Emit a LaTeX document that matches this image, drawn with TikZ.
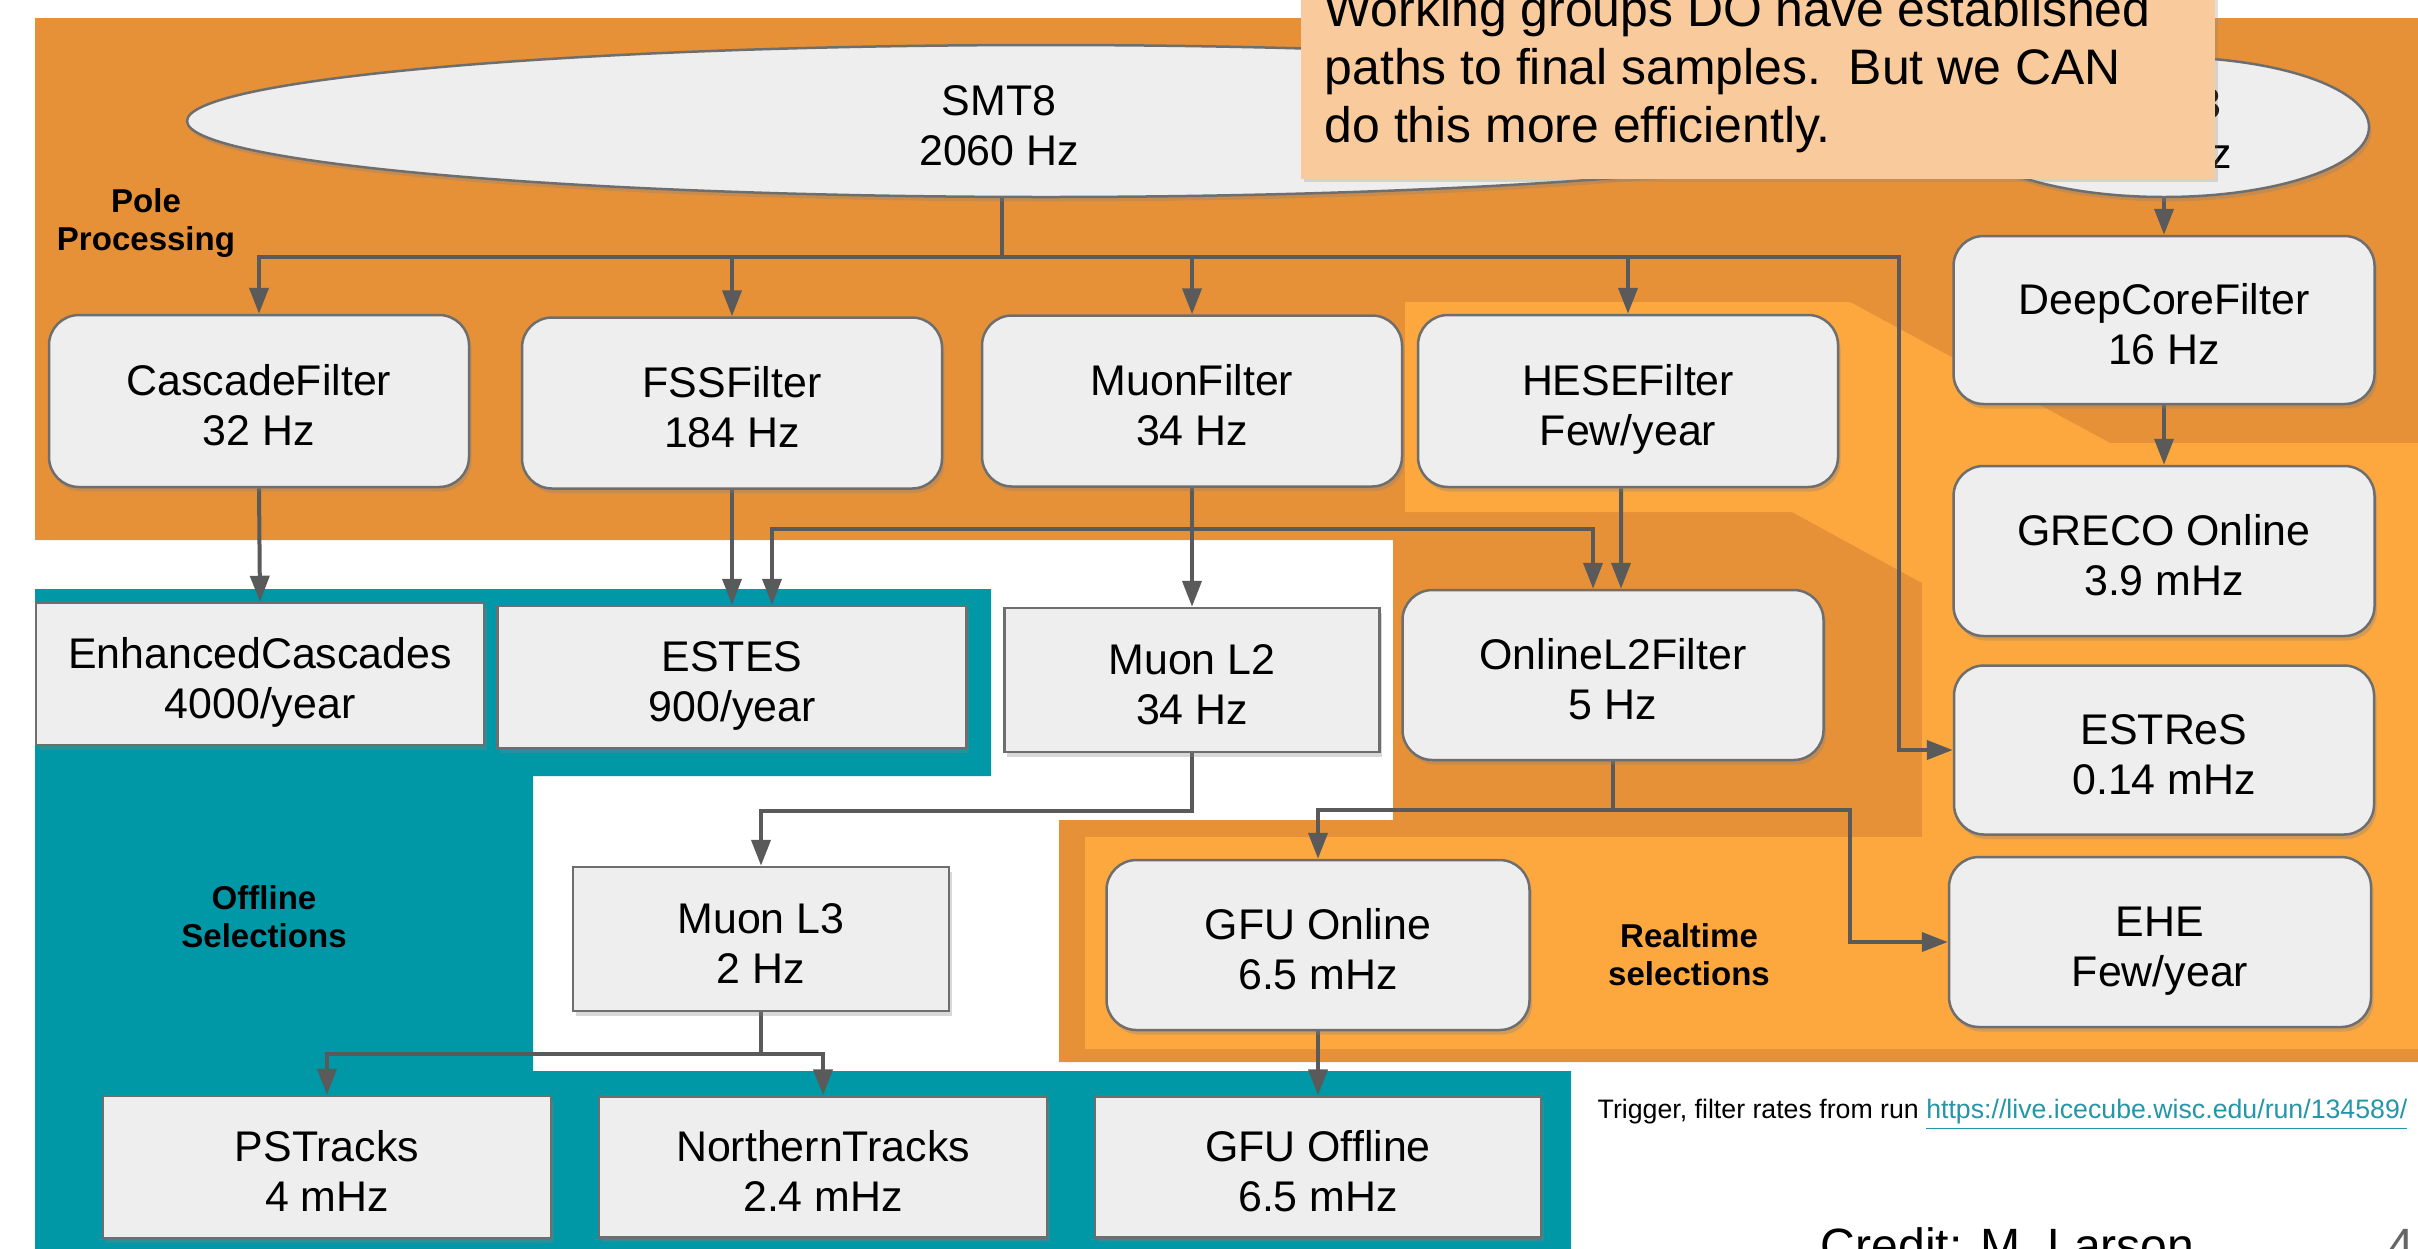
\documentclass[tikz,border=0pt]{standalone}
\usepackage{fontspec}
\setmainfont{Liberation Sans}
\usetikzlibrary{arrows.meta,shapes.geometric,shadows}
\definecolor{dorange}{HTML}{E69138}
\definecolor{lorange}{HTML}{FCA83F}
\definecolor{tealc}{HTML}{0097A7}
\definecolor{boxfill}{HTML}{EEEEEE}
\definecolor{boxline}{HTML}{6E6E6E}
\definecolor{conncol}{HTML}{5A5A5A}
\definecolor{calloutc}{HTML}{F9CB9C}
\definecolor{linkcol}{HTML}{2596AA}
\pgfdeclarelayer{bg}
\pgfdeclarelayer{conn}
\pgfsetlayers{bg,conn,main}
\begin{document}
\begin{tikzpicture}[x=0.1mm,y=-0.1mm,
  nodefont/.style={font=\fontsize{12.2pt}{14pt}\selectfont, text height=8.8mm, text depth=0mm},
  shad/.style={drop shadow={shadow xshift=0.25mm, shadow yshift=-0.45mm, opacity=0.3}},
  rbox/.style={draw=boxline, line width=0.25mm, fill=boxfill, rounded corners=3mm, align=center, inner sep=0pt, nodefont, shad},
  sbox/.style={draw=boxline, line width=0.25mm, fill=boxfill, align=center, inner sep=0pt, nodefont, shad},
  ell/.style={ellipse, draw=boxline, line width=0.25mm, fill=boxfill, inner sep=0pt, shad},
  conn/.style={draw=conncol, line width=0.4mm},
  arr/.style={conn, -{Triangle[length=2.6mm, width=1.9mm]}},
  lbl/.style={font=\fontsize{9.4pt}{10.8pt}\selectfont\bfseries, align=center, inner sep=0pt},
]
\useasboundingbox (0,0) rectangle (2418,1248);

% ---------- backgrounds ----------
\begin{pgfonlayer}{bg}
\fill[white] (0,0) rectangle (2418,1248);
\fill[dorange] (35,18) -- (2418,18) -- (2418,1062) -- (1059,1062) -- (1059,820)
  -- (1393,820) -- (1393,540) -- (35,540) -- cycle;
\fill[lorange] (1405,302) -- (1850,302) -- (2110,443) -- (2418,443) -- (2418,1049)
  -- (1085,1049) -- (1085,837) -- (1922,837) -- (1922,583) -- (1792,512) -- (1405,512) -- cycle;
\fill[tealc] (35,589) -- (991,589) -- (991,776) -- (533,776) -- (533,1071)
  -- (1571,1071) -- (1571,1260) -- (35,1260) -- cycle;
\end{pgfonlayer}

% ---------- triggers ----------
\node[ell, minimum width=171.8mm, minimum height=15.2mm] (smt8) at (1046,121) {};
\node[nodefont, align=center, inner sep=0pt] (smt8t) at (999,121) {SMT8\\2060 Hz};
\node[ell, minimum width=41mm, minimum height=14mm] (smt3) at (2164,127) {};
\node[nodefont, align=center, inner sep=0pt] (smt3t) at (2164,124) {SMT3\\250 Hz};

% ---------- filters ----------
\node[rbox, minimum width=42mm, minimum height=17.2mm] (cascade) at (259,401) {CascadeFilter\\32 Hz};
\node[rbox, minimum width=42mm, minimum height=17.1mm] (fss) at (732,403) {FSSFilter\\184 Hz};
\node[rbox, minimum width=42mm, minimum height=17.1mm] (muonf) at (1192,401) {MuonFilter\\34 Hz};
\node[rbox, minimum width=42mm, minimum height=17.2mm] (hese) at (1628,401) {HESEFilter\\Few/year};
\node[rbox, minimum width=42.1mm, minimum height=16.8mm] (deepcore) at (2164,320) {DeepCoreFilter\\16 Hz};
\node[rbox, minimum width=42.1mm, minimum height=17mm] (greco) at (2164,551) {GRECO Online\\3.9 mHz};
\node[rbox, minimum width=42mm, minimum height=16.9mm] (estres) at (2164,750) {ESTReS\\0.14 mHz};
\node[rbox, minimum width=42.2mm, minimum height=17mm] (ehe) at (2160,942) {EHE\\Few/year};
\node[rbox, minimum width=42.1mm, minimum height=17mm] (onl2) at (1613,675) {OnlineL2Filter\\5 Hz};
\node[rbox, minimum width=42.3mm, minimum height=17mm] (gfuon) at (1318,945) {GFU Online\\6.5 mHz};

% ---------- offline samples ----------
\node[sbox, minimum width=44.8mm, minimum height=14.2mm] (enhcasc) at (260,674) {EnhancedCascades\\4000/year};
\node[sbox, minimum width=46.9mm, minimum height=14.2mm] (estes) at (732,677) {ESTES\\900/year};
\node[sbox, minimum width=37.5mm, minimum height=14.4mm] (muonl2) at (1192,680) {Muon L2\\34 Hz};
\node[sbox, minimum width=37.6mm, minimum height=14.4mm] (muonl3) at (761,939) {Muon L3\\2 Hz};
\node[sbox, minimum width=44.8mm, minimum height=14.2mm] (pstracks) at (327,1167) {PSTracks\\4 mHz};
\node[sbox, minimum width=44.8mm, minimum height=14.1mm] (ntracks) at (823,1167) {NorthernTracks\\2.4 mHz};
\node[sbox, minimum width=44.6mm, minimum height=14.1mm] (gfuoff) at (1318,1167) {GFU Offline\\6.5 mHz};

% ---------- region labels ----------
\node[lbl] (pole) at (146,223) {Pole\\Processing};
\node[lbl] (offl) at (264,917) {Offline\\Selections};
\node[lbl] (realt) at (1689,955) {Realtime\\selections};

% ---------- footer ----------
\node[anchor=base west, inner sep=0pt, font=\fontsize{7.6pt}{9pt}\selectfont] (trig) at (1597,1118)
  {Trigger, filter rates from run \textcolor{linkcol}{\underline{https://live.icecube.wisc.edu/run/134589/}}};
\node[anchor=base west, inner sep=0pt, font=\fontsize{13.7pt}{16pt}\selectfont] (credit) at (1820,1262) {Credit: M. Larson};
\node[anchor=base west, inner sep=0pt, font=\fontsize{13.7pt}{16pt}\selectfont, text=black!60] (pagenum) at (2387,1262) {4};

% ---------- callout ----------
\node[fill=calloutc, inner sep=0pt, minimum width=91.4mm, minimum height=28mm, anchor=south west,
  drop shadow={shadow xshift=0.3mm, shadow yshift=-0.3mm, opacity=0.25}] (callout) at (1300,180) {};
\node[anchor=north west, inner sep=0pt, align=left, font=\fontsize{14.2pt}{16.5pt}\selectfont] (callouttxt) at (1324,-10)
  {Working groups DO have established\\paths to final samples.\ \ But we CAN\\do this more efficiently.};

% ---------- connectors ----------
\begin{pgfonlayer}{conn}
\coordinate (b0) at (1002,257);
\coordinate (eb) at (1899,257);
\coordinate (mb) at (1192,529);
\draw[conn] (b0 |- smt8.center) -- (b0);
\draw[arr] (b0) -| (cascade.north);
\draw[arr] (b0) -| (fss.north);
\draw[arr] (b0) -| (muonf.north);
\draw[arr] (b0) -| (hese.north);
\draw[arr] (b0) -- (eb) |- (estres.west);
\draw[arr] (smt3.south) -- (deepcore.north);
\draw[arr] (deepcore.south) -- (greco.north);
\draw[arr] (cascade.south) -- (enhcasc.north);
\draw[arr] (fss.south) -- (estes.north);
\draw[arr] (muonf.south) -- (muonl2.north);
\draw[arr] (mb) -| ([xshift=4mm]estes.north);
\draw[arr] (mb) -| ([xshift=-2mm]onl2.north);
\draw[arr] ([xshift=-0.7mm]hese.south) -- ([xshift=0.8mm]onl2.north);
\draw[arr] (muonl2.south) -- ++(0,58) -| (muonl3.north);
\draw[arr] (muonl3.south) -- ++(0,42) -| (pstracks.north);
\draw[arr] (muonl3.south) -- ++(0,42) -| (ntracks.north);
\draw[arr] (onl2.south) -- ++(0,49) -| (gfuon.north);
\draw[arr] (onl2.south) -- ++(0,49) -- ++(237,0) |- (ehe.west);
\draw[arr] (gfuon.south) -- (gfuoff.north);
\end{pgfonlayer}
\end{tikzpicture}
\end{document}
